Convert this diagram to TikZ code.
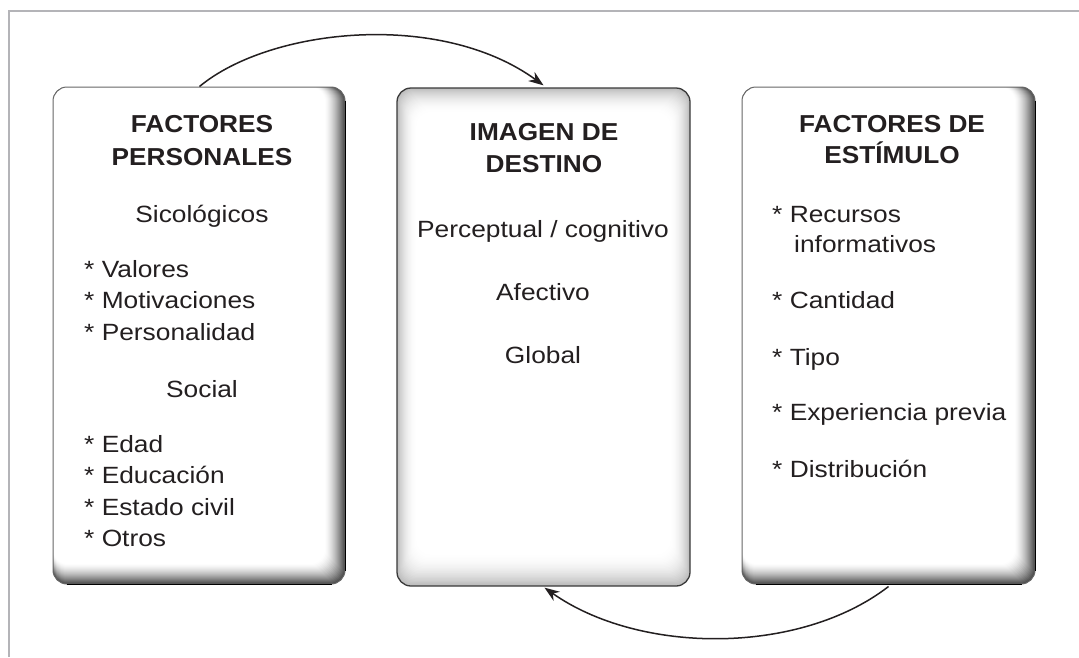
\documentclass[tikz,border=0pt]{standalone}
\usepackage{fontspec}
\setmainfont{Liberation Sans}
\usetikzlibrary{arrows.meta}
\definecolor{txt}{HTML}{231F20}
\definecolor{framegray}{HTML}{B4B4B8}
\definecolor{shd}{HTML}{4E4E4E}
\definecolor{pil}{HTML}{BCBCBC}
\definecolor{edge}{HTML}{3A3A3A}
\tikzset{
  body/.style={font=\fontsize{23.5}{28}\selectfont, text=txt, inner sep=0pt, xscale=1.12},
  head/.style={font=\fontsize{24.5}{30}\selectfont\bfseries, text=txt, inner sep=0pt, xscale=1.07, anchor=base},
  item/.style={body, anchor=base west},
  ctr/.style={body, anchor=base},
  conn/.style={line width=1.5pt, draw=txt, -{Stealth[length=15pt,width=11pt]}},
  boxedge/.style={draw=edge, line width=1pt, rounded corners=14pt, inner sep=0pt}
}
\newcommand{\myshadebox}[4]{%
  \fill[shd, rounded corners=14pt] (#1,-#2) rectangle (#3,-#4);
  \foreach \k in {1,...,20}{%
    \pgfmathsetmacro\cc{100*(1-(1-\k/20)^1.5)}%
    \fill[white!\cc!shd, rounded corners=14pt] (#1,-#2) rectangle ({#3-\k},{-#4+\k});
  }%
}
\newcommand{\mypillowbox}[4]{%
  \fill[pil, rounded corners=14pt] (#1,-#2) rectangle (#3,-#4);
  \foreach \k in {1,...,25}{%
    \pgfmathsetmacro\cc{100*(1-(1-\k/25)^2)}%
    \fill[white!\cc!pil, rounded corners=14pt] ({#1+0.8*\k},{-#2-1.0*\k}) rectangle ({#3-0.8*\k},{-#4+1.3*\k});
  }%
}
\begin{document}
\begin{tikzpicture}[x=1pt,y=1pt]
\useasboundingbox (0,0) rectangle (1079,-657);
\fill[white] (0,0) rectangle (1079,-657);
\draw[framegray, line width=2.5pt] (9,-657) -- (9,-11) -- (1079,-11);

% box bodies
\myshadebox{53}{87}{345}{584}
\mypillowbox{397}{88}{690}{586}
\myshadebox{742}{87}{1035}{584}

% box frames
\node[boxedge, draw=gray!80!black, minimum width=292pt, minimum height=497pt] (L) at (199,-335.5) {};
\node[boxedge, line width=1.3pt, minimum width=293pt, minimum height=498pt] (M) at (543.5,-337) {};
\node[boxedge, draw=gray!80!black, minimum width=293pt, minimum height=497pt] (R) at (888.5,-335.5) {};
\draw[black, line width=1.8pt] ([xshift=14pt]L.south west) -- ([xshift=-14pt]L.south east);
\draw[black, line width=1.8pt] ([xshift=14pt]R.south west) -- ([xshift=-14pt]R.south east);
\draw[black, line width=1.3pt] ([yshift=-14pt]L.north east) -- ([yshift=14pt]L.south east);
\draw[black, line width=1.3pt] ([yshift=-14pt]R.north east) -- ([yshift=14pt]R.south east);

% left texts
\node[head] (lh1) at (202,-132) {FACTORES};
\node[head] (lh2) at (202,-165) {PERSONALES};
\node[ctr] (ls1) at (202,-222) {Sicológicos};
\node[item] (li1) at (84,-277) {* Valores};
\node[item] (li2) at (84,-308.5) {* Motivaciones};
\node[item] (li3) at (84,-340) {* Personalidad};
\node[ctr] (ls2) at (202,-397) {Social};
\node[item] (li4) at (84,-452) {* Edad};
\node[item] (li5) at (84,-483.5) {* Educación};
\node[item] (li6) at (84,-515) {* Estado civil};
\node[item] (li7) at (84,-546.5) {* Otros};

% middle texts
\node[head] (mh1) at (544,-140) {IMAGEN DE};
\node[head] (mh2) at (544,-172) {DESTINO};
\node[ctr] (mi1) at (543,-237) {Perceptual / cognitivo};
\node[ctr] (mi2) at (543,-300) {Afectivo};
\node[ctr] (mi3) at (543,-363) {Global};

% right texts
\node[head] (rh1) at (892,-132) {FACTORES DE};
\node[head] (rh2) at (892,-163) {ESTÍMULO};
\node[item] (ri1) at (772,-222) {* Recursos};
\node[item] (ri1b) at (794,-252) {informativos};
\node[item] (ri2) at (772,-308) {* Cantidad};
\node[item] (ri3) at (772,-365) {* Tipo};
\node[item] (ri4) at (772,-420) {* Experiencia previa};
\node[item] (ri5) at (772,-477) {* Distribución};

% connectors
\draw[conn] ([xshift=147pt]L.north west) .. controls (270,-28) and (440,-10) .. ([yshift=2pt]M.north);
\draw[conn] ([xshift=-147pt,yshift=-2pt]R.south east) .. controls (800,-655) and (640,-655) .. ([xshift=1pt,yshift=-1pt]M.south);
\end{tikzpicture}
\end{document}
